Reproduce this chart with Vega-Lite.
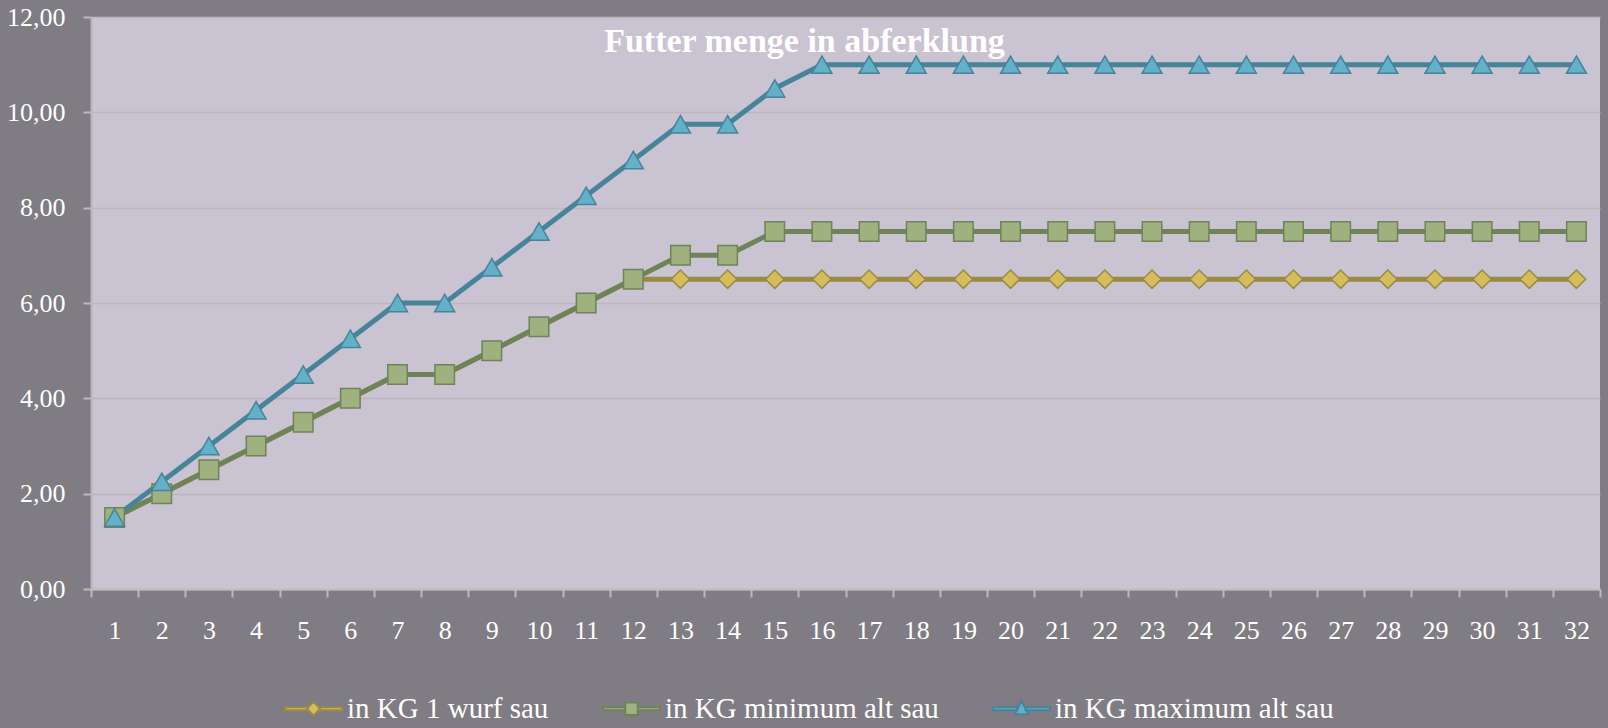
{
  "$schema": "https://vega.github.io/schema/vega-lite/v6.json",
  "width": 1509,
  "height": 572,
  "autosize": {"type": "none"},
  "padding": {"left": 91, "top": 17, "right": 8, "bottom": 139},
  "background": "#7f7c83",
  "title": {
    "text": "Futter menge in abferklung",
    "anchor": "middle",
    "orient": "top",
    "offset": 0,
    "dx": -41,
    "dy": 82,
    "baseline": "alphabetic",
    "font": "Liberation Serif",
    "fontSize": 34,
    "fontWeight": "bold",
    "color": "#ffffff"
  },
  "config": {
    "font": "Liberation Serif",
    "view": {"fill": "#c9c3d2", "stroke": null},
    "legend": {
      "orient": "none",
      "legendX": 193,
      "legendY": 662,
      "direction": "horizontal",
      "padding": 0,
      "columnPadding": 50,
      "labelFont": "Liberation Serif",
      "labelFontSize": 29,
      "labelColor": "#ffffff",
      "labelOffset": 4,
      "labelLimit": 0,
      "symbolSize": 3249,
      "symbolStrokeWidth": 2,
      "symbolOpacity": 1,
      "title": null
    }
  },
  "data": {
    "values": [
      {"day": 1, "series": "in KG 1 wurf sau", "kg": 1.5},
      {"day": 2, "series": "in KG 1 wurf sau", "kg": 2},
      {"day": 3, "series": "in KG 1 wurf sau", "kg": 2.5},
      {"day": 4, "series": "in KG 1 wurf sau", "kg": 3},
      {"day": 5, "series": "in KG 1 wurf sau", "kg": 3.5},
      {"day": 6, "series": "in KG 1 wurf sau", "kg": 4},
      {"day": 7, "series": "in KG 1 wurf sau", "kg": 4.5},
      {"day": 8, "series": "in KG 1 wurf sau", "kg": 4.5},
      {"day": 9, "series": "in KG 1 wurf sau", "kg": 5},
      {"day": 10, "series": "in KG 1 wurf sau", "kg": 5.5},
      {"day": 11, "series": "in KG 1 wurf sau", "kg": 6},
      {"day": 12, "series": "in KG 1 wurf sau", "kg": 6.5},
      {"day": 13, "series": "in KG 1 wurf sau", "kg": 6.5},
      {"day": 14, "series": "in KG 1 wurf sau", "kg": 6.5},
      {"day": 15, "series": "in KG 1 wurf sau", "kg": 6.5},
      {"day": 16, "series": "in KG 1 wurf sau", "kg": 6.5},
      {"day": 17, "series": "in KG 1 wurf sau", "kg": 6.5},
      {"day": 18, "series": "in KG 1 wurf sau", "kg": 6.5},
      {"day": 19, "series": "in KG 1 wurf sau", "kg": 6.5},
      {"day": 20, "series": "in KG 1 wurf sau", "kg": 6.5},
      {"day": 21, "series": "in KG 1 wurf sau", "kg": 6.5},
      {"day": 22, "series": "in KG 1 wurf sau", "kg": 6.5},
      {"day": 23, "series": "in KG 1 wurf sau", "kg": 6.5},
      {"day": 24, "series": "in KG 1 wurf sau", "kg": 6.5},
      {"day": 25, "series": "in KG 1 wurf sau", "kg": 6.5},
      {"day": 26, "series": "in KG 1 wurf sau", "kg": 6.5},
      {"day": 27, "series": "in KG 1 wurf sau", "kg": 6.5},
      {"day": 28, "series": "in KG 1 wurf sau", "kg": 6.5},
      {"day": 29, "series": "in KG 1 wurf sau", "kg": 6.5},
      {"day": 30, "series": "in KG 1 wurf sau", "kg": 6.5},
      {"day": 31, "series": "in KG 1 wurf sau", "kg": 6.5},
      {"day": 32, "series": "in KG 1 wurf sau", "kg": 6.5},
      {"day": 1, "series": "in KG minimum alt sau", "kg": 1.5},
      {"day": 2, "series": "in KG minimum alt sau", "kg": 2},
      {"day": 3, "series": "in KG minimum alt sau", "kg": 2.5},
      {"day": 4, "series": "in KG minimum alt sau", "kg": 3},
      {"day": 5, "series": "in KG minimum alt sau", "kg": 3.5},
      {"day": 6, "series": "in KG minimum alt sau", "kg": 4},
      {"day": 7, "series": "in KG minimum alt sau", "kg": 4.5},
      {"day": 8, "series": "in KG minimum alt sau", "kg": 4.5},
      {"day": 9, "series": "in KG minimum alt sau", "kg": 5},
      {"day": 10, "series": "in KG minimum alt sau", "kg": 5.5},
      {"day": 11, "series": "in KG minimum alt sau", "kg": 6},
      {"day": 12, "series": "in KG minimum alt sau", "kg": 6.5},
      {"day": 13, "series": "in KG minimum alt sau", "kg": 7},
      {"day": 14, "series": "in KG minimum alt sau", "kg": 7},
      {"day": 15, "series": "in KG minimum alt sau", "kg": 7.5},
      {"day": 16, "series": "in KG minimum alt sau", "kg": 7.5},
      {"day": 17, "series": "in KG minimum alt sau", "kg": 7.5},
      {"day": 18, "series": "in KG minimum alt sau", "kg": 7.5},
      {"day": 19, "series": "in KG minimum alt sau", "kg": 7.5},
      {"day": 20, "series": "in KG minimum alt sau", "kg": 7.5},
      {"day": 21, "series": "in KG minimum alt sau", "kg": 7.5},
      {"day": 22, "series": "in KG minimum alt sau", "kg": 7.5},
      {"day": 23, "series": "in KG minimum alt sau", "kg": 7.5},
      {"day": 24, "series": "in KG minimum alt sau", "kg": 7.5},
      {"day": 25, "series": "in KG minimum alt sau", "kg": 7.5},
      {"day": 26, "series": "in KG minimum alt sau", "kg": 7.5},
      {"day": 27, "series": "in KG minimum alt sau", "kg": 7.5},
      {"day": 28, "series": "in KG minimum alt sau", "kg": 7.5},
      {"day": 29, "series": "in KG minimum alt sau", "kg": 7.5},
      {"day": 30, "series": "in KG minimum alt sau", "kg": 7.5},
      {"day": 31, "series": "in KG minimum alt sau", "kg": 7.5},
      {"day": 32, "series": "in KG minimum alt sau", "kg": 7.5},
      {"day": 1, "series": "in KG maximum alt sau", "kg": 1.5},
      {"day": 2, "series": "in KG maximum alt sau", "kg": 2.25},
      {"day": 3, "series": "in KG maximum alt sau", "kg": 3},
      {"day": 4, "series": "in KG maximum alt sau", "kg": 3.75},
      {"day": 5, "series": "in KG maximum alt sau", "kg": 4.5},
      {"day": 6, "series": "in KG maximum alt sau", "kg": 5.25},
      {"day": 7, "series": "in KG maximum alt sau", "kg": 6},
      {"day": 8, "series": "in KG maximum alt sau", "kg": 6},
      {"day": 9, "series": "in KG maximum alt sau", "kg": 6.75},
      {"day": 10, "series": "in KG maximum alt sau", "kg": 7.5},
      {"day": 11, "series": "in KG maximum alt sau", "kg": 8.25},
      {"day": 12, "series": "in KG maximum alt sau", "kg": 9},
      {"day": 13, "series": "in KG maximum alt sau", "kg": 9.75},
      {"day": 14, "series": "in KG maximum alt sau", "kg": 9.75},
      {"day": 15, "series": "in KG maximum alt sau", "kg": 10.5},
      {"day": 16, "series": "in KG maximum alt sau", "kg": 11},
      {"day": 17, "series": "in KG maximum alt sau", "kg": 11},
      {"day": 18, "series": "in KG maximum alt sau", "kg": 11},
      {"day": 19, "series": "in KG maximum alt sau", "kg": 11},
      {"day": 20, "series": "in KG maximum alt sau", "kg": 11},
      {"day": 21, "series": "in KG maximum alt sau", "kg": 11},
      {"day": 22, "series": "in KG maximum alt sau", "kg": 11},
      {"day": 23, "series": "in KG maximum alt sau", "kg": 11},
      {"day": 24, "series": "in KG maximum alt sau", "kg": 11},
      {"day": 25, "series": "in KG maximum alt sau", "kg": 11},
      {"day": 26, "series": "in KG maximum alt sau", "kg": 11},
      {"day": 27, "series": "in KG maximum alt sau", "kg": 11},
      {"day": 28, "series": "in KG maximum alt sau", "kg": 11},
      {"day": 29, "series": "in KG maximum alt sau", "kg": 11},
      {"day": 30, "series": "in KG maximum alt sau", "kg": 11},
      {"day": 31, "series": "in KG maximum alt sau", "kg": 11},
      {"day": 32, "series": "in KG maximum alt sau", "kg": 11}
    ]
  },
  "encoding": {
    "x": {
      "field": "day",
      "type": "ordinal",
      "scale": {"type": "band", "paddingInner": 0, "paddingOuter": 0},
      "axis": {
        "title": null,
        "labelAngle": 0,
        "labelFontSize": 26,
        "labelColor": "#ffffff",
        "labelPadding": 20,
        "tickBand": "extent",
        "tickSize": 8,
        "tickColor": "#bdbabd",
        "tickWidth": 2,
        "domainColor": "#c0bdc0",
        "domainWidth": 2,
        "grid": false
      }
    },
    "y": {
      "field": "kg",
      "type": "quantitative",
      "scale": {"domain": [0, 12], "nice": false},
      "axis": {
        "title": null,
        "values": [0, 2, 4, 6, 8, 10, 12],
        "labelExpr": "replace(format(datum.value, '.2f'), '.', ',')",
        "labelFontSize": 26,
        "labelColor": "#ffffff",
        "labelPadding": 18,
        "tickSize": 8,
        "tickColor": "#bdbabd",
        "tickWidth": 2,
        "domainColor": "#b9b6ba",
        "domainWidth": 2,
        "grid": true,
        "gridColor": "#bbb7bd",
        "gridWidth": 1.5
      }
    },
    "stroke": {
      "field": "series",
      "type": "nominal",
      "scale": {
        "domain": ["in KG 1 wurf sau", "in KG minimum alt sau", "in KG maximum alt sau"],
        "range": ["#9b8a42", "#6f8358", "#47849a"]
      }
    }
  },
  "layer": [
    {
      "mark": {"type": "line", "strokeWidth": 5}
    },
    {
      "transform": [{"filter": "datum.series === 'in KG 1 wurf sau'"}],
      "mark": {"type": "point", "shape": "diamond", "size": 340, "strokeWidth": 1.5, "opacity": 1, "filled": false},
      "encoding": {
        "fill": {"field": "series", "type": "nominal"}
      }
    },
    {
      "transform": [{"filter": "datum.series === 'in KG minimum alt sau'"}],
      "mark": {"type": "point", "shape": "square", "size": 380, "strokeWidth": 1.5, "opacity": 1, "filled": false},
      "encoding": {
        "fill": {"field": "series", "type": "nominal"}
      }
    },
    {
      "transform": [{"filter": "datum.series === 'in KG maximum alt sau'"}],
      "mark": {"type": "point", "shape": "triangle-up", "size": 400, "strokeWidth": 1.5, "opacity": 1, "filled": false},
      "encoding": {
        "fill": {"field": "series", "type": "nominal"}
      }
    },
    {
      "mark": {"type": "point", "size": 0, "strokeWidth": 1.5, "opacity": 1, "filled": false},
      "encoding": {
        "fill": {
          "field": "series",
          "type": "nominal",
          "scale": {
            "domain": ["in KG 1 wurf sau", "in KG minimum alt sau", "in KG maximum alt sau"],
            "range": ["#d5bd5c", "#9fb17f", "#62b1c9"]
          }
        },
        "shape": {
          "field": "series",
          "type": "nominal",
          "scale": {
            "domain": ["in KG 1 wurf sau", "in KG minimum alt sau", "in KG maximum alt sau"],
            "range": [
              "M-1,-0.055H-0.23V0.055H-1Z M0.23,-0.055H1V0.055H0.23Z M-0.23,0L0,-0.24L0.23,0L0,0.24Z",
              "M-1,-0.055H-0.22V0.055H-1Z M0.22,-0.055H1V0.055H0.22Z M-0.22,-0.22H0.22V0.22H-0.22Z",
              "M-1,-0.055H-0.14V0.055H-1Z M0.14,-0.055H1V0.055H0.14Z M0,-0.27L0.24,0.19L-0.24,0.19Z"
            ]
          }
        }
      }
    }
  ]
}
